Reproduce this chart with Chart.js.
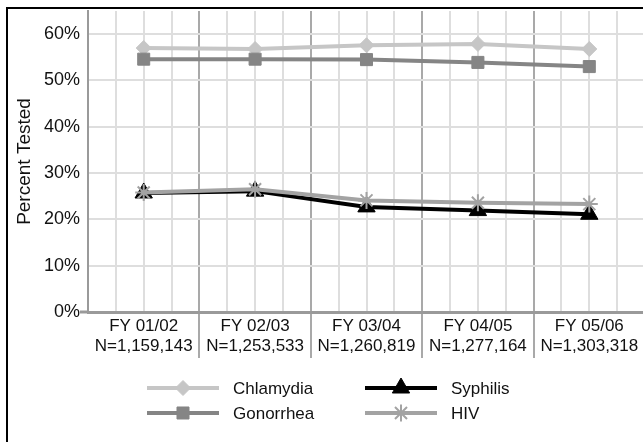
<!DOCTYPE html>
<html>
<head>
<meta charset="utf-8">
<script src="https://cdn.jsdelivr.net/npm/chart.js@4/dist/chart.umd.min.js"></script>
<style>
  html, body { margin: 0; padding: 0; background: #fff; overflow: hidden; }
  .wrap { position: relative; width: 643px; height: 442px; overflow: hidden; }
  .frame { position: absolute; left: 6px; top: 7px; width: 700px; height: 500px;
           border-left: 2px solid #000; border-top: 2px solid #000; pointer-events: none; }
  canvas { position: absolute; left: 0; top: 0; }
</style>
</head>
<body>
<div class="wrap">
  <canvas id="tested" width="680" height="442"></canvas>
  <div class="frame"></div>
</div>
<script>
// fiscal years and number of clients for each
const fiscalYears = ["FY 01/02", "FY 02/03", "FY 03/04", "FY 04/05", "FY 05/06"];
const clientCounts = ["N=1,159,143", "N=1,253,533", "N=1,260,819", "N=1,277,164", "N=1,303,318"];

// percent tested
const chlamydia = [57.0, 56.8, 57.6, 57.9, 56.8];
const gonorrhea = [54.6, 54.6, 54.5, 53.9, 53.0];
const syphilis = [25.7, 26.1, 22.7, 21.9, 21.1];
const hiv = [25.8, 26.5, 24.1, 23.6, 23.3];

const yTicks = [0, 10, 20, 30, 40, 50, 60];

const FONT = "'Liberation Sans', Arial, Helvetica, sans-serif";

const labels = fiscalYears.map((fy, i) => [fy, clientCounts[i]]);

// legend laid out in two columns, like the original
const legendBox = {
  id: 'legendBox',
  afterDraw(chart) {
    const ctx = chart.ctx;
    const slots = [
      { idx: 0, x: 147, y: 388 },
      { idx: 1, x: 147, y: 413 },
      { idx: 2, x: 365, y: 388 },
      { idx: 3, x: 365, y: 413 }
    ];
    ctx.save();
    slots.forEach(s => {
      const ds = chart.data.datasets[s.idx];
      ctx.strokeStyle = ds.borderColor;
      ctx.lineWidth = 4;
      ctx.beginPath();
      ctx.moveTo(s.x, s.y);
      ctx.lineTo(s.x + 72, s.y);
      ctx.stroke();
      ctx.fillStyle = ds.pointBackgroundColor;
      ctx.strokeStyle = ds.pointBorderColor;
      ctx.lineWidth = ds.pointBorderWidth;
      Chart.helpers.drawPoint(ctx, {
        pointStyle: ds.pointStyle,
        radius: ds.pointRadius,
        borderWidth: ds.pointBorderWidth,
        rotation: 0
      }, s.x + 36, s.y);
      ctx.fillStyle = '#111';
      ctx.font = '17px ' + FONT;
      ctx.textBaseline = 'middle';
      ctx.textAlign = 'left';
      ctx.fillText(ds.label, s.x + 86, s.y + 1);
    });
    ctx.restore();
  }
};

new Chart(document.getElementById('tested').getContext('2d'), {
  type: 'line',
  data: {
    labels: labels,
    datasets: [
      {
        label: 'Chlamydia', data: chlamydia, order: 3, xAxisID: 'x',
        borderColor: '#c6c6c6', borderWidth: 4,
        pointStyle: 'rectRot', pointRadius: 7.5, pointBorderWidth: 1,
        pointBackgroundColor: '#c6c6c6', pointBorderColor: '#c6c6c6'
      },
      {
        label: 'Gonorrhea', data: gonorrhea, order: 2, xAxisID: 'x',
        borderColor: '#858585', borderWidth: 4,
        pointStyle: 'rect', pointRadius: 8.5, pointBorderWidth: 1,
        pointBackgroundColor: '#858585', pointBorderColor: '#858585'
      },
      {
        label: 'Syphilis', data: syphilis, order: 1, xAxisID: 'x',
        borderColor: '#000000', borderWidth: 4,
        pointStyle: 'triangle', pointRadius: 10, pointBorderWidth: 1,
        pointBackgroundColor: '#000000', pointBorderColor: '#000000'
      },
      {
        label: 'HIV', data: hiv, order: 0, xAxisID: 'x',
        borderColor: '#a3a3a3', borderWidth: 4,
        pointStyle: 'star', pointRadius: 8.5, pointBorderWidth: 2,
        pointBackgroundColor: '#a3a3a3', pointBorderColor: '#a3a3a3'
      }
    ]
  },
  options: {
    responsive: false,
    animation: false,
    layout: { padding: { left: 0, top: 9, right: 35, bottom: 0 } },
    plugins: {
      legend: { display: false },
      tooltip: { enabled: false }
    },
    elements: { line: { tension: 0 } },
    scales: {
      x: {
        weight: 1,
        offset: true,
        afterFit: s => { s.height = 130; },
        border: { display: true, color: '#9a9a9a', width: 3 },
        grid: { display: false, drawTicks: false },
        ticks: {
          color: '#111',
          font: { family: FONT, size: 17 },
          padding: 4,
          autoSkip: false,
          maxRotation: 0
        }
      },
      xg: {
        type: 'linear',
        position: 'bottom',
        weight: 0,
        min: 0,
        max: 5,
        afterFit: s => { s.height = 0; },
        ticks: { display: false, stepSize: 0.25 },
        border: { display: false },
        grid: {
          lineWidth: 2,
          color: c => Number.isInteger(c.tick.value) ? '#a9a9a9' : '#dedede',
          tickColor: c => (Number.isInteger(c.tick.value) && c.tick.value > 0) ? '#a9a9a9' : 'rgba(0,0,0,0)',
          tickLength: 46,
          tickWidth: 2
        }
      },
      y: {
        min: 0,
        max: 65,
        afterFit: s => { s.width = 88; },
        border: { display: true, color: '#9a9a9a', width: 2 },
        grid: {
          lineWidth: 2,
          color: '#dedede',
          tickLength: 8,
          tickWidth: 3,
          tickColor: c => c.tick.value === 0 ? '#9a9a9a' : 'rgba(0,0,0,0)'
        },
        ticks: {
          stepSize: 5,
          color: '#111',
          padding: 0,
          font: { family: FONT, size: 18 },
          callback: v => yTicks.includes(v) ? v + '%' : ''
        },
        title: {
          display: true,
          text: 'Percent Tested',
          color: '#111',
          font: { family: FONT, size: 19 },
          padding: { top: 13, bottom: 0 }
        }
      }
    }
  },
  plugins: [legendBox]
});
</script>
</body>
</html>
